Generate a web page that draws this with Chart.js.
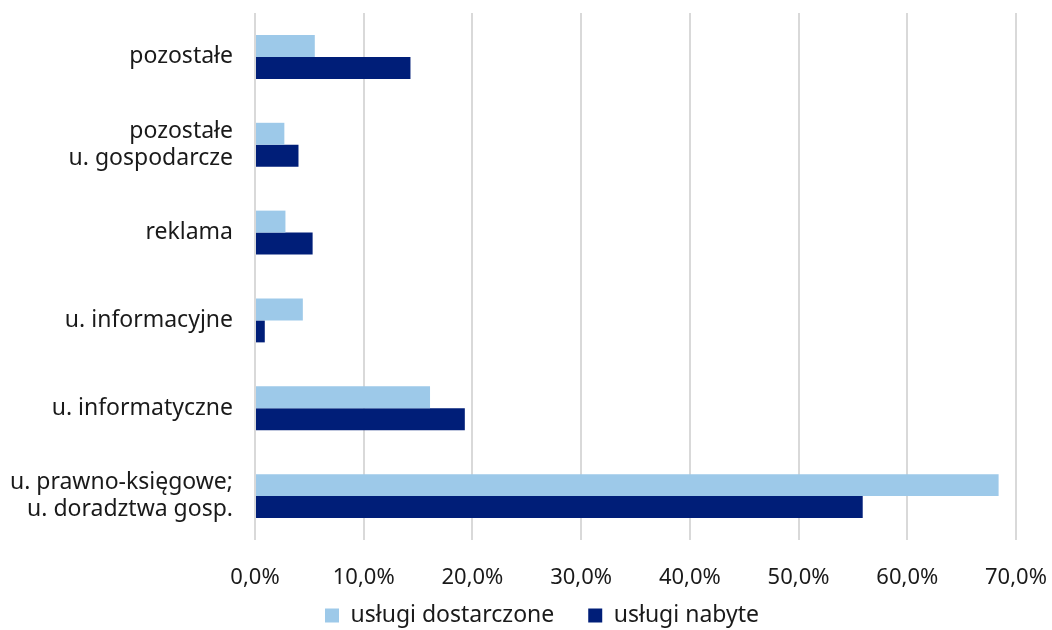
<!DOCTYPE html>
<html>
<head>
<meta charset="utf-8">
<script src="https://cdn.jsdelivr.net/npm/chart.js@4/dist/chart.umd.min.js"></script>
<style>
html,body{margin:0;padding:0;background:#fff;}
#wrap{width:1052px;height:630px;}
</style>
</head>
<body>
<div id="wrap"><canvas id="c" width="1052" height="630"></canvas></div>
<script>
const categories = [
  ["pozostałe"],
  ["pozostałe", "u. gospodarcze"],
  ["reklama"],
  ["u. informacyjne"],
  ["u. informatyczne"],
  ["u. prawno-księgowe;", "u. doradztwa gosp."]
];
const seriesNames = ["usługi dostarczone", "usługi nabyte"];
const dostarczone = [5.5, 2.7, 2.8, 4.4, 16.1, 68.4];
const nabyte = [14.3, 4.0, 5.3, 0.9, 19.3, 55.9];
const xTicks = [0, 10, 20, 30, 40, 50, 60, 70];

const fontFam = "'Noto Sans', 'Open Sans', sans-serif";

const legendShift = {
  id: 'legendShift',
  beforeDraw(chart) {
    const lg = chart.legend;
    if (!lg) return;
    lg.top = chart.chartArea.bottom + 30;
    lg.height = 80;
    lg.bottom = lg.top + 80;
    lg.left = 16;
    lg.right = 1052 + 16;
  }
};

new Chart(document.getElementById('c'), {
  type: 'bar',
  data: {
    labels: categories,
    datasets: [
      { label: seriesNames[0], data: dostarczone, backgroundColor: '#9DC9E9', borderWidth: 0 },
      { label: seriesNames[1], data: nabyte, backgroundColor: '#001E78', borderWidth: 0 }
    ]
  },
  plugins: [legendShift],
  options: {
    indexAxis: 'y',
    responsive: false,
    animation: false,
    layout: { padding: { top: 13, right: 36, left: 0, bottom: 0 } },
    categoryPercentage: 0.5,
    barPercentage: 1.0,
    scales: {
      x: {
        min: 0, max: 70,
        afterBuildTicks: (axis) => { axis.ticks = xTicks.map(v => ({ value: v })); },
        afterFit: (s) => { s.height = 60; s.paddingLeft = 0; s.paddingRight = 0; },
        grid: { color: '#D9D9D9', lineWidth: 2, drawTicks: false },
        border: { display: false },
        ticks: {
          padding: 25,
          color: '#1a1a1a',
          font: { family: fontFam, size: 22 },
          callback: (v) => v.toFixed(1).replace('.', ',') + '%'
        }
      },
      y: {
        afterFit: (s) => { s.width = 255; s.paddingTop = 0; s.paddingBottom = 0; },
        grid: { display: false, drawTicks: false },
        border: { display: false },
        ticks: {
          padding: 22,
          color: '#1a1a1a',
          font: { family: fontFam, size: 23, lineHeight: 1.17 }
        }
      }
    },
    plugins: {
      legend: {
        position: 'bottom',
        maxHeight: 30,
        labels: {
          boxWidth: 14, boxHeight: 14,
          color: '#1a1a1a',
          font: { family: fontFam, size: 23 },
          padding: 34
        }
      },
      tooltip: { enabled: false }
    }
  }
});
</script>
</body>
</html>
